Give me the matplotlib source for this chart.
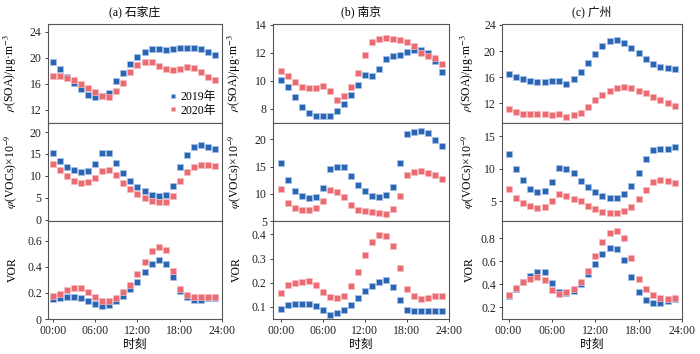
import matplotlib
matplotlib.use("Agg")
import matplotlib.pyplot as plt
import numpy as np

plt.rcParams['font.family'] = ['Liberation Serif', 'Noto Sans CJK SC']
plt.rcParams['mathtext.fontset'] = 'stix'
plt.rcParams['axes.unicode_minus'] = False

hours = list(range(24))
cities = ["(a) 石家庄", "(b) 南京", "(c) 广州"]
years = ["2019年", "2020年"]
xtick_labels = ["00:00", "06:00", "12:00", "18:00", "24:00"]

# Shijiazhuang
sjz_soa_2019 = [19.4, 18.3, 17.1, 16.1, 15.2, 14.3, 14.05, 14.2, 14.6, 16.4, 17.7, 19.0,
                20.1, 20.9, 21.3, 21.35, 21.15, 21.3, 21.5, 21.45, 21.5, 21.35, 20.9, 20.4]
sjz_soa_2020 = [17.2, 17.2, 16.9, 16.55, 16.0, 15.4, 14.8, 14.2, 13.95, 14.9, 16.2, 17.8,
                18.85, 19.3, 19.3, 18.8, 18.3, 18.1, 18.25, 18.55, 18.45, 17.9, 17.05, 16.55]
sjz_voc_2019 = [15.2, 13.5, 12.0, 11.3, 10.8, 11.1, 12.8, 15.3, 15.15, 13.0, 10.7, 8.9,
                7.6, 6.5, 5.75, 5.4, 5.6, 7.8, 12.1, 14.85, 16.5, 17.0, 16.7, 16.2]
sjz_voc_2020 = [12.7, 11.4, 10.0, 8.9, 8.3, 8.55, 9.55, 11.05, 11.3, 10.15, 8.4, 7.1,
                5.9, 4.9, 4.4, 4.1, 4.1, 5.5, 8.9, 10.9, 12.1, 12.6, 12.4, 12.35]
sjz_vor_2019 = [0.154, 0.162, 0.17, 0.17, 0.162, 0.141, 0.116, 0.10, 0.108, 0.136, 0.177, 0.226,
                0.285, 0.357, 0.424, 0.45, 0.424, 0.319, 0.213, 0.165, 0.147, 0.147, 0.157, 0.162]
sjz_vor_2020 = [0.175, 0.193, 0.221, 0.236, 0.236, 0.21, 0.17, 0.136, 0.136, 0.162, 0.203, 0.26,
                0.342, 0.44, 0.517, 0.553, 0.527, 0.368, 0.226, 0.185, 0.17, 0.17, 0.172, 0.172]

# Nanjing
nj_soa_2019 = [10.07, 9.55, 8.83, 8.17, 7.72, 7.53, 7.48, 7.53, 7.84, 8.38, 9.02, 9.73,
               10.4, 10.35, 10.82, 11.58, 11.75, 11.87, 12.06, 12.2, 12.2, 11.96, 11.44, 10.64]
nj_soa_2020 = [10.7, 10.35, 9.92, 9.57, 9.52, 9.47, 9.66, 9.31, 8.67, 8.93, 9.57, 10.59,
               11.82, 12.74, 13.0, 13.03, 12.96, 12.89, 12.77, 12.46, 11.99, 11.75, 11.6, 11.23]
nj_voc_2019 = [15.74, 12.46, 10.58, 9.54, 9.18, 9.42, 11.12, 14.47, 15.0, 14.9, 13.3, 11.55,
               10.58, 9.67, 9.42, 9.73, 11.3, 15.62, 20.97, 21.34, 21.52, 21.1, 19.9, 18.8]
nj_voc_2020 = [10.88, 8.33, 7.36, 7.0, 6.93, 7.36, 8.75, 10.76, 10.4, 9.42, 8.02, 7.1,
               6.8, 6.63, 6.4, 6.3, 7.17, 9.6, 13.5, 14.04, 14.16, 13.86, 13.37, 12.77]
nj_vor_2019 = [0.09, 0.108, 0.114, 0.112, 0.111, 0.104, 0.086, 0.067, 0.073, 0.086, 0.108, 0.137,
               0.166, 0.185, 0.203, 0.21, 0.184, 0.128, 0.089, 0.084, 0.081, 0.081, 0.085, 0.085]
nj_vor_2020 = [0.159, 0.192, 0.199, 0.203, 0.205, 0.19, 0.163, 0.139, 0.135, 0.147, 0.185, 0.245,
               0.315, 0.37, 0.397, 0.395, 0.353, 0.262, 0.172, 0.147, 0.133, 0.135, 0.143, 0.144]

# Guangzhou
gz_soa_2019 = [16.5, 16.05, 15.8, 15.45, 15.3, 15.35, 15.45, 15.5, 15.0, 15.7, 16.8, 18.2,
               19.6, 20.8, 21.5, 21.65, 21.2, 20.45, 19.7, 18.8, 18.0, 17.5, 17.4, 17.25]
gz_soa_2020 = [11.2, 10.7, 10.45, 10.45, 10.4, 10.35, 10.3, 10.4, 9.9, 10.2, 10.6, 11.4,
               12.5, 13.3, 13.9, 14.3, 14.45, 14.3, 13.9, 13.55, 13.0, 12.45, 12.0, 11.55]
gz_voc_2019 = [12.18, 9.92, 8.23, 6.95, 6.38, 6.59, 8.03, 10.18, 10.03, 9.3, 8.13, 7.15,
               6.44, 5.82, 5.56, 5.56, 6.13, 7.3, 9.36, 11.56, 12.85, 13.0, 13.05, 13.3]
gz_voc_2020 = [6.9, 5.51, 4.74, 4.33, 4.02, 4.18, 5.1, 6.13, 5.82, 5.41, 5.0, 4.28,
               3.77, 3.41, 3.2, 3.26, 3.51, 4.13, 5.36, 6.74, 7.92, 8.28, 8.18, 7.77]
gz_vor_2019 = [0.30, 0.36, 0.417, 0.47, 0.51, 0.505, 0.41, 0.33, 0.325, 0.345, 0.405, 0.49,
               0.58, 0.665, 0.716, 0.705, 0.613, 0.466, 0.333, 0.261, 0.238, 0.238, 0.252, 0.27]
gz_vor_2020 = [0.31, 0.368, 0.417, 0.445, 0.46, 0.437, 0.353, 0.316, 0.336, 0.362, 0.42, 0.518,
               0.65, 0.77, 0.846, 0.863, 0.803, 0.633, 0.45, 0.36, 0.304, 0.281, 0.276, 0.281]

data = [
    [(sjz_soa_2019, sjz_soa_2020), (sjz_voc_2019, sjz_voc_2020), (sjz_vor_2019, sjz_vor_2020)],
    [(nj_soa_2019, nj_soa_2020), (nj_voc_2019, nj_voc_2020), (nj_vor_2019, nj_vor_2020)],
    [(gz_soa_2019, gz_soa_2020), (gz_voc_2019, gz_voc_2020), (gz_vor_2019, gz_vor_2020)],
]

ylabels = [r'$\rho$(SOA)/μg·m$^{-3}$', r'$\varphi$(VOCs)×10$^{-9}$', 'VOR']

yticks = [
    [[12, 16, 20, 24], [0, 5, 10, 15, 20], [0, 0.2, 0.4, 0.6]],
    [[8, 10, 12, 14], [5, 10, 15, 20], [0.1, 0.2, 0.3, 0.4]],
    [[12, 16, 20, 24], [5, 10, 15], [0.2, 0.4, 0.6, 0.8]],
]
ylims = [
    [(10, 25.2), (-0.25, 22.05), (0, 0.75)],
    [(7, 14.05), (5, 23), (0.05, 0.455)],
    [(9, 24.15), (2, 17), (0.1, 0.95)],
]
xlims = [(-0.7, 24), (-1.1, 24), (-0.9, 24)]

W, H = 700, 354
fig = plt.figure(figsize=(7.0, 3.54), dpi=100)

col_px = [(48, 222), (273, 449), (502, 682)]
row_px = [(24, 123), (123, 221), (221, 319)]
label_x = [-0.167, -0.17, -0.145]

blue = '#2a66b4'
red = '#ec6a72'
blue_edge = '#a9c3e6'
red_edge = '#f6bcbf'

frame_color = '#555555'

for c in range(3):
    x0, x1 = col_px[c]
    for r in range(3):
        y0, y1 = row_px[r]
        ax = fig.add_axes([x0 / W, 1 - y1 / H, (x1 - x0) / W, (y1 - y0) / H])
        s19, s20 = data[c][r]
        ax.plot(hours, s19, linestyle='none', marker='s', markersize=4.4,
                color=blue, markeredgecolor=blue_edge, markeredgewidth=0.5, label=years[0])
        ax.plot(hours, s20, linestyle='none', marker='s', markersize=4.4,
                color=red, markeredgecolor=red_edge, markeredgewidth=0.5, label=years[1])
        ax.set_xlim(*xlims[c])
        ax.set_ylim(*ylims[c][r])
        ax.set_xticks([0, 6, 12, 18, 24])
        ax.set_yticks(yticks[c][r])
        if r == 2:
            ax.set_yticklabels(['0' if v == 0 else ('%g' % v) for v in yticks[c][r]])
            ax.set_xticklabels(xtick_labels)
        else:
            ax.set_xticklabels([])
        ax.tick_params(direction='out', length=2, width=0.6, labelsize=8.5,
                       colors='#222222', pad=2.5)
        for sp in ax.spines.values():
            sp.set_color(frame_color)
            sp.set_linewidth(0.8)
        ax.set_ylabel(ylabels[r], fontsize=8.5)
        ax.yaxis.set_label_coords(label_x[c], 0.5)
        if c == 0 and r == 0:
            ax.legend(loc='lower right', bbox_to_anchor=(1.02, -0.03), frameon=False,
                      fontsize=8.5, handlelength=0.6, handletextpad=0.3,
                      borderpad=0.3, labelspacing=0.15, markerscale=0.8)
    fig.text((x0 + x1) / 2 / W, 1 - 12 / H, cities[c], ha='center', va='center', fontsize=8.5)
    fig.text((x0 + x1) / 2 / W, 1 - 345 / H, "时刻", ha='center', va='center', fontsize=8.5)

fig.savefig("out.png", dpi=100)
